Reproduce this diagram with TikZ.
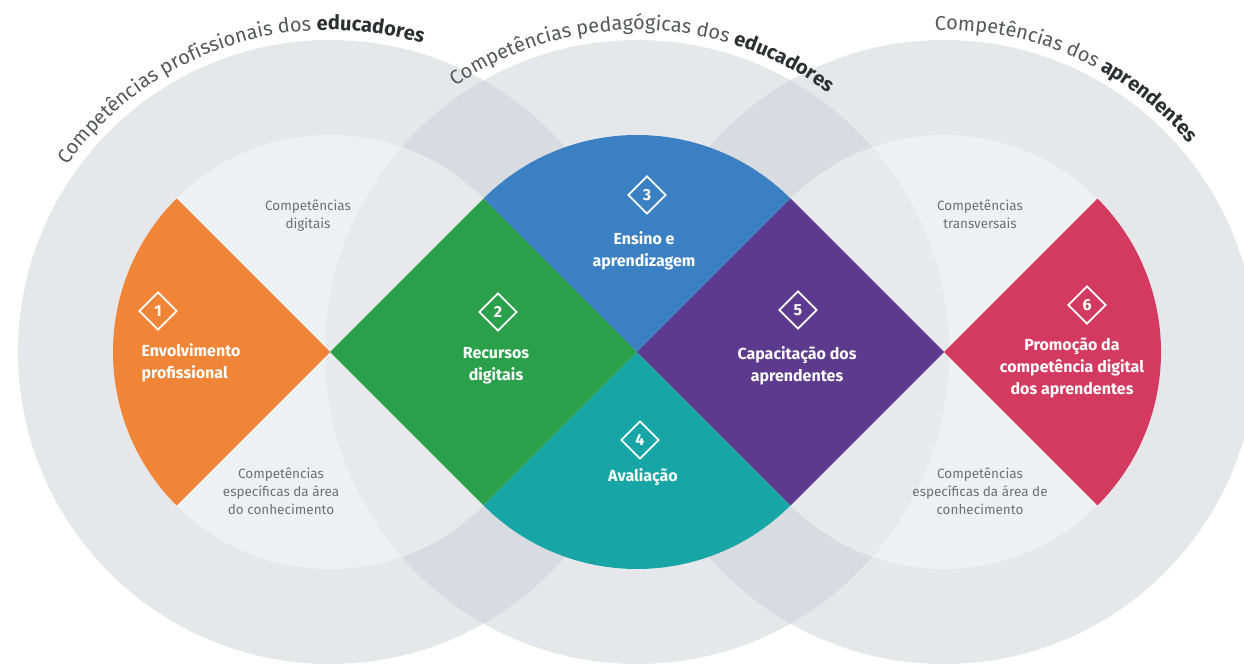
\documentclass[tikz,border=0pt]{standalone}
\usepackage{fontspec}
\setmainfont{Fira Sans}
\usetikzlibrary{shapes.geometric,decorations.text}

\definecolor{ringgrey}{RGB}{203,207,213}
\definecolor{envorange}{RGB}{240,133,55}
\definecolor{recgreen}{RGB}{43,160,74}
\definecolor{ensblue}{RGB}{59,128,195}
\definecolor{avalteal}{RGB}{23,165,165}
\definecolor{cappurple}{RGB}{94,58,142}
\definecolor{prompink}{RGB}{212,58,95}
\definecolor{notegrey}{RGB}{110,112,115}
\definecolor{titlegrey}{RGB}{85,87,90}
\definecolor{titledark}{RGB}{45,47,50}

\newcommand{\titlefont}{\fontsize{20}{24}\selectfont\mdseries\color{titlegrey}}
\newcommand{\titlebold}{\fontsize{20}{24}\selectfont\bfseries\color{titledark}}

\tikzset{
    outerdisc/.style={fill=ringgrey, fill opacity=0.5},
    innerdisc/.style={fill=white, fill opacity=0.4},
    numbox/.style={shape=diamond, draw=white, line width=1.8pt, minimum size=38pt, inner sep=0pt,
        text=white, font=\bfseries\fontsize{16}{16}\selectfont},
    areatext/.style={text=white, font=\bfseries\fontsize{16}{22}\selectfont, align=center},
    notetext/.style={text=notegrey, font=\fontsize{13.5}{18}\selectfont, align=center},
    titlearc/.style={decorate, decoration={text along path, text align=center, text={#1}}}
}

\begin{document}
\begin{tikzpicture}[x=1pt, y=1pt]

    \clip (0,0) rectangle (1244,664);

    % Circles
    \foreach \cx in {330, 637, 944} {
        \fill[outerdisc] (\cx,312) circle[radius=312pt];
    }
    \foreach \cx in {330, 637, 944} {
        \fill[innerdisc] (\cx,312) circle[radius=217pt];
    }

    % Areas
    \fill[envorange] (330,312) -- ++(135:217pt) arc[start angle=135, end angle=225, radius=217pt] -- cycle;
    \fill[recgreen] (330,312) -- (483.5,465.5) -- (637,312) -- (483.5,158.5) -- cycle;
    \fill[ensblue] (637,312) -- ++(45:217pt) arc[start angle=45, end angle=135, radius=217pt] -- cycle;
    \fill[avalteal] (637,312) -- ++(225:217pt) arc[start angle=225, end angle=315, radius=217pt] -- cycle;
    \fill[cappurple] (637,312) -- (790.5,465.5) -- (944,312) -- (790.5,158.5) -- cycle;
    \fill[prompink] (944,312) -- ++(-45:217pt) arc[start angle=-45, end angle=45, radius=217pt] -- cycle;

    % Numbers
    \node at (158, 353) (n1) [numbox] {1};
    \node at (498, 352) (n2) [numbox] {2};
    \node at (647, 469) (n3) [numbox] {3};
    \node at (640, 224) (n4) [numbox] {4};
    \node at (798, 354) (n5) [numbox] {5};
    \node at (1087, 359) (n6) [numbox] {6};

    % Area names
    \node at (138, 301) (l1) [areatext, anchor=west, align=left] {Envolvimento\\profissional};
    \node at (496, 298) (l2) [areatext] {Recursos\\digitais};
    \node at (644, 413) (l3) [areatext] {Ensino e\\aprendizagem};
    \node at (643, 187) (l4) [areatext] {Avaliação};
    \node at (797, 298) (l5) [areatext] {Capacitação dos\\aprendentes};
    \node at (1072, 296) (l6) [areatext] {Promoção da\\competência digital\\dos aprendentes};

    % Notes
    \node at (308, 448) (g1) [notetext] {Competências\\digitais};
    \node at (281, 173) (g2) [notetext] {Competências\\específicas da área\\do conhecimento};
    \node at (980, 450) (g3) [notetext] {Competências\\transversais};
    \node at (980, 173) (g4) [notetext] {Competências\\específicas da área de\\conhecimento};

    % Titles
    \path[titlearc={|\titlefont|Competências profissionais dos |\titlebold|educadores}]
        (330,312) ++(175:322pt) arc[start angle=175, end angle=43, radius=322pt];
    \path[titlearc={|\titlefont|Competências pedagógicas dos |\titlebold|educadores}]
        (637,312) ++(155:322pt) arc[start angle=155, end angle=23, radius=322pt];
    \path[titlearc={|\titlefont|Competências dos |\titlebold|aprendentes}]
        (944,312) ++(132:322pt) arc[start angle=132, end angle=0, radius=322pt];

\end{tikzpicture}
\end{document}
